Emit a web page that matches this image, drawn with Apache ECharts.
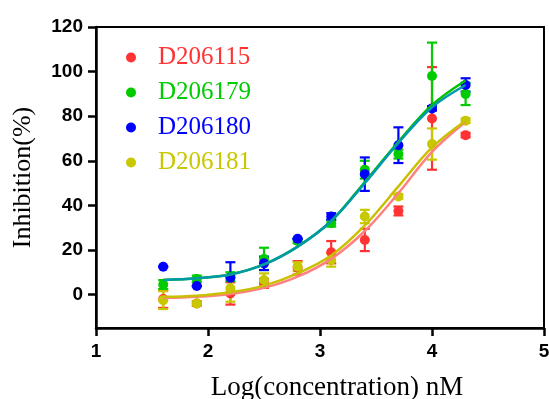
<!DOCTYPE html>
<html><head><meta charset="utf-8">
<script src="https://cdn.jsdelivr.net/npm/echarts@6/dist/echarts.min.js"></script>
<style>html,body{margin:0;padding:0;background:#fff}#c{width:549px;height:399px}</style>
</head><body><div id="c"></div>
<script>
const logConc = [1.6, 1.9, 2.2, 2.5, 2.8, 3.1, 3.4, 3.7, 4.0, 4.3];
const names = ['D206115', 'D206179', 'D206180', 'D206181'];
// mean values
const d115 = [-2, -4, 0.5, 5, 12, 19, 24.5, 37.5, 79, 71.5];
const d179 = [4.5, 7, 8, 16, 24, 32, 56, 63, 98, 90];
const d180 = [12.5, 3.8, 7.5, 14, 25, 35, 54, 67, 83.5, 94];
const d181 = [-2.5, -4, 2.8, 6.5, 12.5, 15.5, 35, 44, 67.5, 78];
// error (+/-)
const e115 = [4, 1, 5, 2, 3, 5, 5, 2, 23, 1];
const e179 = [2, 1.5, 2, 5, 1, 1.5, 4, 2, 15, 5];
const e180 = [0, 0, 7, 3, 0, 1.5, 7.5, 8, 1, 3];
const e181 = [4, 1, 6, 3, 2, 3, 3, 1, 7, 1];
// fitted curves
const fit115 = [-1.5, -1, 0.3, 3, 8, 16, 28.5, 45.5, 64, 77.5];
const fit179 = [6.5, 7.3, 9, 13.5, 21.5, 33, 50.5, 68.5, 85, 96];
const fit180 = [6.5, 7.3, 9, 13.5, 21.5, 33, 50, 68, 84, 94];
const fit181 = [-1, -0.5, 1, 4, 9.5, 17.5, 31, 48.5, 66, 78];
const yTicks = [0, 20, 40, 60, 80, 100, 120];
const xTicks = [1, 2, 3, 4, 5];

const ptColors = ['#ff3333', '#00cc00', '#0000ff', '#c8c800'];
const fitColors = ['#ff8080', '#00c000', '#0099aa', '#c8c000'];
const means = [d115, d179, d180, d181];
const errs = [e115, e179, e180, e181];
const fits = [fit115, fit179, fit180, fit181];

const series = [];
names.forEach((n, i) => {
  series.push({
    type: 'custom', name: n + '_err', silent: true, z: 2,
    data: logConc.map((x, k) => [x, means[i][k] - errs[i][k], means[i][k] + errs[i][k]]),
    renderItem: (params, api) => {
      const lo = api.coord([api.value(0), api.value(1)]);
      const hi = api.coord([api.value(0), api.value(2)]);
      const c = 5;
      const st = { stroke: ptColors[i], lineWidth: 2.2 };
      return { type: 'group', children: [
        { type: 'line', shape: { x1: lo[0], y1: lo[1], x2: hi[0], y2: hi[1] }, style: st },
        { type: 'line', shape: { x1: lo[0]-c, y1: lo[1], x2: lo[0]+c, y2: lo[1] }, style: st },
        { type: 'line', shape: { x1: hi[0]-c, y1: hi[1], x2: hi[0]+c, y2: hi[1] }, style: st }
      ]};
    }
  });
  series.push({
    type: 'scatter', name: n, symbol: 'circle', symbolSize: 10, z: 3,
    itemStyle: { color: ptColors[i], opacity: 1 },
    data: logConc.map((x, k) => [x, means[i][k]])
  });
  series.push({
    type: 'line', name: n + '_fit', smooth: 0.35, showSymbol: false, silent: true, z: 4,
    lineStyle: { color: fitColors[i], width: 2.5 },
    data: logConc.map((x, k) => [x, fits[i][k]])
  });
});

const chart = echarts.init(document.getElementById('c'));
chart.setOption({
  animation: false,
  grid: { left: 96, right: 5, top: 27, bottom: 71, show: true, borderColor: '#000', borderWidth: 2,
          containLabel: false, outerBoundsMode: 'none' },
  legend: {
    orient: 'vertical', left: 121, top: 40, itemWidth: 10, itemHeight: 10, itemGap: 10,
    icon: 'circle', selectedMode: false,
    textStyle: { fontFamily: 'Liberation Serif', fontSize: 25, lineHeight: 25, padding: [0, 0, 0, 17] },
    data: names.map((n, i) => ({ name: n, itemStyle: { color: ptColors[i] }, textStyle: { color: ptColors[i] } }))
  },
  xAxis: {
    type: 'value', min: 1, max: 5, interval: 1,
    name: 'Log(concentration) nM', nameLocation: 'middle', nameGap: 46,
    nameTextStyle: { fontFamily: 'Liberation Serif', fontSize: 27, color: '#000', padding: [0, 0, 0, 34] },
    axisLine: { onZero: false, lineStyle: { color: '#000', width: 2.5 } },
    axisTick: { show: true, length: 8, lineStyle: { color: '#000', width: 2.5 }, customValues: xTicks },
    axisLabel: { color: '#000', fontFamily: 'Liberation Sans', fontWeight: 'bold', fontSize: 19, margin: 14, customValues: xTicks },
    splitLine: { show: false }
  },
  yAxis: {
    type: 'value', min: -15, max: 120,
    name: 'Inhibition(%)', nameLocation: 'middle', nameGap: 60,
    nameTextStyle: { fontFamily: 'Liberation Serif', fontSize: 26, color: '#000' },
    axisLine: { onZero: false, lineStyle: { color: '#000', width: 2.5 } },
    axisTick: { show: true, length: 8, lineStyle: { color: '#000', width: 2.5 }, customValues: yTicks },
    axisLabel: { color: '#000', fontFamily: 'Liberation Sans', fontWeight: 'bold', fontSize: 19, margin: 13, customValues: yTicks },
    splitLine: { show: false }
  },
  series: series
});
</script></body></html>
